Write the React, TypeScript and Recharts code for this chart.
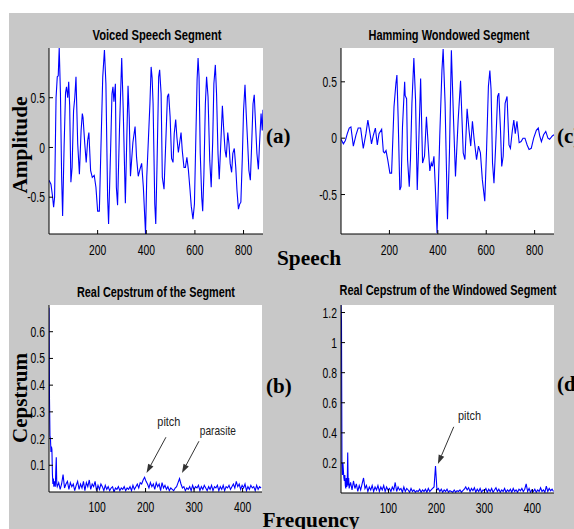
import React from "react";
import { LineChart, Line, XAxis, YAxis, ReferenceLine, ReferenceDot } from "recharts";

// (a) voiced speech segment: sample index / amplitude
const speechN = [
  0, 8, 14, 19, 23, 29, 34, 38, 42, 47, 52, 56, 62, 68, 72, 77, 81, 85, 90, 95,
  101, 106, 111, 118, 125, 132, 137, 140, 147, 153, 159, 164, 171, 178, 186, 193, 200, 207, 214, 221,
  228, 234, 241, 245, 254, 259, 263, 267, 273, 277, 282, 290, 299, 305, 314, 320, 325, 330, 335, 345,
  354, 360, 367, 374, 381, 388, 397, 402, 408, 415, 420, 424, 428, 435, 439, 444, 451, 455, 461, 466,
  473, 480, 487, 492, 498, 504, 510, 515, 521, 526, 532, 537, 543, 548, 555, 561, 567, 573, 580, 585,
  592, 598, 603, 609, 613, 617, 622, 628, 632, 637, 643, 648, 654, 661, 667, 673, 678, 684, 689, 695,
  700, 707, 713, 718, 724, 729, 735, 740, 745, 751, 756, 762, 768, 773, 779, 784, 789, 795, 800, 806,
  811, 817, 822, 828, 833, 839, 844, 850, 855, 861, 866, 872, 877, 880,
];
const speechAmp = [
  -0.33, -0.37, -0.48, -0.6, -0.5, 0.5, 0.71, 0.72, 1.0, 0.55, -0.3, -0.69, 0.0, 0.55, 0.61, 0.5, 0.66, 0.42, -0.35, -0.2,
  0.37, 0.5, 0.71, 0.04, -0.27, 0.17, 0.34, 0.3, 0.04, -0.15, 0.07, 0.15, -0.23, -0.3, -0.28, -0.4, -0.64, -0.64, 0.04, 0.71,
  0.98, 0.64, -0.5, -0.77, 0.04, 0.54, 0.61, 0.46, 0.64, -0.4, -0.58, 0.2, 0.9, 0.4, -0.56, 0.1, 0.62, 0.3, -0.29, 0.05,
  0.21, -0.1, -0.29, -0.22, -0.16, -0.4, -0.87, -0.3, 0.04, 0.44, 0.81, 0.7, 0.44, -0.57, -0.77, -0.2, 0.71, 0.78, 0.54, -0.3,
  -0.42, 0.04, 0.51, 0.54, 0.31, -0.11, -0.15, 0.14, 0.28, 0.1, -0.05, 0.04, 0.15, -0.03, -0.2, -0.2, -0.1, -0.22, -0.43, -0.59,
  -0.72, -0.57, 0.0, 0.68, 0.9, 0.71, -0.06, -0.5, -0.64, -0.27, 0.44, 0.71, 0.51, -0.13, -0.4, 0.05, 0.64, 0.83, 0.54, -0.06,
  -0.32, 0.07, 0.42, 0.2, -0.03, -0.1, 0.15, 0.04, -0.16, -0.25, -0.06, -0.01, -0.2, -0.43, -0.62, -0.57, -0.55, -0.1, 0.37, 0.63,
  0.34, 0.04, -0.23, -0.33, 0.0, 0.44, 0.53, 0.2, -0.06, -0.22, 0.05, 0.34, 0.17, 0.38,
];

// (c) hamming windowed segment
const windowedN = [
  0, 10, 18, 26, 34, 41, 51, 62, 71, 81, 92, 103, 111, 120, 126, 133, 142, 150, 157, 168,
  175, 180, 186, 193, 202, 209, 219, 227, 231, 236, 243, 248, 254, 263, 265, 271, 275, 282, 287, 293,
  301, 308, 315, 320, 329, 337, 345, 353, 362, 367, 373, 378, 384, 389, 397, 408, 417, 422, 430, 440,
  448, 456, 465, 473, 484, 494, 505, 512, 521, 529, 536, 543, 550, 560, 568, 576, 584, 594, 601, 609,
  615, 620, 626, 632, 639, 647, 652, 659, 664, 670, 678, 686, 694, 700, 708, 714, 720, 727, 736, 744,
  752, 760, 769, 777, 786, 796, 807, 815, 821, 828, 837, 846, 855, 862, 873, 880,
];
const windowedAmp = [
  -0.01, -0.05, -0.02, 0.04, 0.09, 0.1, -0.07, 0.03, 0.09, 0.09, -0.09, 0.04, 0.16, 0.04, -0.05, 0.02, 0.09, -0.06, 0.04, 0.08,
  -0.12, -0.13, -0.11, -0.19, -0.31, -0.31, 0.28, 0.49, 0.56, 0.19, -0.46, -0.43, 0.1, 0.5, 0.38, 0.35, -0.19, -0.43, -0.19, 0.31,
  0.71, 0.34, -0.46, -0.13, 0.53, -0.22, -0.16, 0.19, -0.12, -0.29, -0.22, -0.25, -0.16, -0.4, -0.84, 0.02, 0.6, 0.79, 0.31, -0.72,
  -0.13, 0.78, 0.16, -0.34, 0.16, 0.51, -0.13, -0.19, 0.26, 0.07, -0.07, 0.15, -0.01, -0.19, -0.07, -0.13, -0.37, -0.56, -0.13, 0.46,
  0.6, 0.43, -0.22, -0.4, -0.07, 0.37, 0.4, 0.07, -0.25, -0.16, 0.31, 0.37, -0.06, -0.09, 0.07, 0.16, 0.04, 0.15, -0.04, -0.03,
  0.0, 0.0, -0.06, -0.1, -0.09, 0.0, 0.07, 0.09, 0.02, -0.03, 0.03, 0.06, 0.0, -0.01, 0.02, 0.03,
];

// (b) real cepstrum of the segment: lags 1..17, then every 3rd lag from 18
const headLags = [1, 2, 3, 4, 5, 6, 7, 8, 9, 10, 11, 12, 13, 14, 15, 16, 17];
const cepRawHead = [0.69, 0.35, 0.21, 0.2, 0.15, 0.17, 0.16, 0.07, 0.03, 0.05, 0.02, 0.04, 0.03, 0.02, 0.08, 0.13, 0.03];
const cepRawTail = [
  0.02, 0.035, 0.01, 0.03, 0.065, 0.015, 0.03, 0.04, 0.01, 0.035,
  0.02, 0.03, 0.005, 0.025, 0.04, 0.01, 0.03, 0.015, 0.04, 0.005,
  0.035, 0.02, 0.045, 0.01, 0.03, 0.02, 0.04, 0.005, 0.025, 0.01,
  0.03, 0.02, 0.005, 0.025, 0.01, 0.02, 0.005, 0.015, 0.02, 0.0,
  0.015, 0.01, 0.02, 0.005, 0.015, 0.01, 0.02, 0.005, 0.015, 0.01,
  0.02, 0.005, 0.025, 0.01, 0.02, 0.03, 0.015, 0.035, 0.03, 0.045,
  0.055, 0.04, 0.03, 0.015, 0.035, 0.02, 0.03, 0.01, 0.035, 0.02,
  0.03, 0.005, 0.035, 0.015, 0.025, 0.01, 0.02, 0.005, 0.015, 0.01,
  0.005, 0.015, 0.02, 0.035, 0.05, 0.03, 0.015, 0.02, 0.005, 0.015,
  0.01, 0.02, 0.005, 0.025, 0.01, 0.02, 0.015, 0.025, 0.005, 0.02,
  0.01, 0.025, 0.015, 0.005, 0.02, 0.01, 0.025, 0.005, 0.02, 0.015,
  0.025, 0.005, 0.02, 0.01, 0.025, 0.005, 0.02, 0.015, 0.025, 0.01,
  0.02, 0.03, 0.015, 0.04, 0.02, 0.03, 0.01, 0.025, 0.015, 0.03,
  0.005, 0.02, 0.01, 0.025, 0.015, 0.02, 0.005, 0.025, 0.01, 0.02,
  0.015,
];

// (d) real cepstrum of the windowed segment
const cepWinHead = [1.25, 1.15, 0.2, 0.12, 0.2, 0.15, 0.1, 0.08, 0.12, 0.05, 0.03, 0.1, 0.04, 0.06, 0.27, 0.05, 0.1];
const cepWinTail = [
  0.03, 0.07, 0.02, 0.08, 0.03, 0.06, 0.01, 0.05, 0.02, 0.06,
  0.1, 0.03, 0.05, 0.01, 0.04, 0.02, 0.05, 0.01, 0.04, 0.02,
  0.05, 0.01, 0.04, 0.02, 0.05, 0.01, 0.04, 0.02, 0.03, 0.01,
  0.04, 0.02, 0.07, 0.01, 0.04, 0.02, 0.03, 0.005, 0.04, 0.01,
  0.03, 0.02, 0.005, 0.03, 0.01, 0.02, 0.005, 0.015, 0.01, 0.025,
  0.005, 0.02, 0.01, 0.025, 0.005, 0.03, 0.01, 0.02, 0.03, 0.04,
  0.18, 0.02, 0.03, 0.01, 0.025, 0.005, 0.02, 0.01, 0.025, 0.005,
  0.015, 0.01, 0.005, 0.02, 0.005, 0.015, 0.01, 0.02, 0.005, 0.015,
  0.025, 0.04, 0.02, 0.035, 0.01, 0.03, 0.015, 0.035, 0.005, 0.025,
  0.01, 0.03, 0.005, 0.02, 0.015, 0.03, 0.005, 0.025, 0.01, 0.03,
  0.005, 0.02, 0.035, 0.01, 0.025, 0.005, 0.02, 0.01, 0.03, 0.005,
  0.02, 0.01, 0.025, 0.005, 0.03, 0.01, 0.02, 0.005, 0.025, 0.015,
  0.03, 0.01, 0.025, 0.06, 0.01, 0.03, 0.005, 0.02, 0.01, 0.025,
  0.005, 0.02, 0.01, 0.035, 0.01, 0.02, 0.005, 0.045, 0.01, 0.03,
  0.015, 0.025, 0.01,
];

const speechTicks = [200, 400, 600, 800];
const ampTicks = [-0.5, 0, 0.5];
const lagTicks = [100, 200, 300, 400];
const cepRawTicks = [0.1, 0.2, 0.3, 0.4, 0.5, 0.6];
const cepWinTicks = [0.2, 0.4, 0.6, 0.8, 1, 1.2];

type Pt = { n: number; v: number };
const pairs = (xs: number[], ys: number[]): Pt[] => xs.map((n, i) => ({ n, v: ys[i] }));
const cepData = (head: number[], tail: number[]): Pt[] => [
  ...pairs(headLags, head),
  ...tail.map((v, i) => ({ n: 18 + 3 * i, v })),
];

const speechData = pairs(speechN, speechAmp);
const windowedData = pairs(windowedN, windowedAmp);
const cepRawData = cepData(cepRawHead, cepRawTail);
const cepWinData = cepData(cepWinHead, cepWinTail);

const GRAY = "#c8c8c8";
const BLUE = "#0000ff";
const SANS = "'Liberation Sans', Arial, sans-serif";
const SERIF = "'Liberation Serif', 'Times New Roman', serif";
const YW = 40;
const XH = 24;
const SQUEEZE = 0.74; // matlab's narrow axis font

const BottomTick = (p: any) => (
  <g transform={`translate(${p.x},${p.y}) scale(${SQUEEZE},1)`}>
    <text x={0} y={0} dy="0.71em" textAnchor="middle" fontSize={14} fontFamily={SANS} fill="#000">
      {p.payload.value}
    </text>
  </g>
);

const LeftTick = (p: any) => (
  <g transform={`translate(${p.x},${p.y}) scale(${SQUEEZE},1)`}>
    <text x={0} y={0} dy="0.36em" textAnchor="end" fontSize={14} fontFamily={SANS} fill="#000">
      {p.payload.value}
    </text>
  </g>
);

type PanelProps = {
  left: number;
  top: number;
  w: number;
  h: number;
  data: Pt[];
  xDomain: [number, number];
  xTicks: number[];
  yDomain: [number, number];
  yTicks: number[];
  xMargin?: number;
  children?: React.ReactNode;
};

function Panel({ left, top, w, h, data, xDomain, xTicks, yDomain, yTicks, xMargin = 15, children }: PanelProps) {
  return (
    <>
      <div style={{ position: "absolute", left, top, width: w, height: h, background: "#fff" }} />
      <div style={{ position: "absolute", left: left - YW, top: top - 1 }}>
        <LineChart width={YW + w + 1} height={h + XH + 1} data={data} margin={{ top: 1, right: 1, bottom: 0, left: 0 }}>
          <XAxis xAxisId="b" dataKey="n" type="number" domain={xDomain} ticks={xTicks} allowDataOverflow
            height={XH} tickSize={-4} tickMargin={xMargin} stroke="#000" tick={BottomTick} interval={0} />
          <XAxis xAxisId="t" orientation="top" dataKey="n" type="number" domain={xDomain} ticks={xTicks}
            allowDataOverflow height={0} tickSize={-4} tick={false} stroke="#000" interval={0} />
          <YAxis yAxisId="l" type="number" domain={yDomain} ticks={yTicks} allowDataOverflow width={YW}
            tickSize={-4} tickMargin={8} stroke="#000" tick={LeftTick} interval={0} />
          <YAxis yAxisId="r" orientation="right" type="number" domain={yDomain} ticks={yTicks}
            allowDataOverflow width={0} tickSize={-4} tick={false} stroke="#000" interval={0} />
          <Line xAxisId="b" yAxisId="l" type="linear" dataKey="v" stroke={BLUE} strokeWidth={1.1}
            dot={false} isAnimationActive={false} />
          {children}
        </LineChart>
      </div>
    </>
  );
}

const ArrowShape = (p: any) => {
  const { x1, y1, x2, y2 } = p;
  const a = Math.atan2(y2 - y1, x2 - x1);
  const len = 9;
  const half = 3;
  const bx = x2 - len * Math.cos(a);
  const by = y2 - len * Math.sin(a);
  const px = -Math.sin(a) * half;
  const py = Math.cos(a) * half;
  return (
    <g>
      <line x1={x1} y1={y1} x2={bx} y2={by} stroke="#333" strokeWidth={1} />
      <polygon points={`${x2},${y2} ${bx + px},${by + py} ${bx - px},${by - py}`} fill="#333" />
    </g>
  );
};

const noteShape = (txt: string, len: number) => (p: any) => (
  <text x={p.cx} y={p.cy} dy="0.35em" textAnchor="middle" fontSize={13} fontFamily={SANS} fill="#222"
    textLength={len} lengthAdjust="spacingAndGlyphs">
    {txt}
  </text>
);

const annotate = (key: string, txt: string, len: number, tx: number, ty: number,
  from: [number, number], to: [number, number]) => [
  <ReferenceDot key={key + "t"} xAxisId="b" yAxisId="l" x={tx} y={ty} r={0} shape={noteShape(txt, len)} />,
  <ReferenceLine key={key + "a"} xAxisId="b" yAxisId="l"
    segment={[{ x: from[0], y: from[1] }, { x: to[0], y: to[1] }]} shape={ArrowShape} />,
];

const Title = ({ x, y, len, children }: { x: number; y: number; len: number; children: string }) => (
  <text x={x} y={y} textAnchor="middle" fontSize={14} fontWeight="bold" fontFamily={SANS}
    textLength={len} lengthAdjust="spacingAndGlyphs" fill="#000">
    {children}
  </text>
);

const Big = ({ x, y, len, rotate, anchor = "middle", children }:
  { x: number; y: number; len?: number; rotate?: boolean; anchor?: string; children: string }) => (
  <text transform={`translate(${x},${y})${rotate ? " rotate(-90)" : ""}`} textAnchor={anchor as any}
    fontSize={21} fontWeight="bold" fontFamily={SERIF} fill="#000"
    textLength={len} lengthAdjust={len ? "spacingAndGlyphs" : undefined}>
    {children}
  </text>
);

export default function App() {
  return (
    <div style={{ position: "absolute", left: 0, top: 0, width: 574, height: 529, overflow: "hidden", background: "#fff" }}>
      <div style={{ position: "absolute", left: 9, top: 13, right: 0, bottom: 0, background: GRAY }} />

      <Panel left={49} top={48} w={214} h={186} data={speechData} xDomain={[0, 880]} xTicks={speechTicks}
        yDomain={[-0.87, 1.0]} yTicks={ampTicks} />
      <Panel left={341} top={48} w={213} h={186} data={windowedData} xDomain={[0, 880]} xTicks={speechTicks}
        yDomain={[-0.85, 0.8]} yTicks={ampTicks} />
      <Panel left={49} top={305} w={213} h={187} data={cepRawData} xDomain={[1, 440]} xTicks={lagTicks}
        yDomain={[0, 0.7]} yTicks={cepRawTicks} xMargin={14}>
        {annotate("p", "pitch", 23, 248, 0.265, [242, 0.205], [202, 0.071])}
        {annotate("q", "parasite", 36, 349, 0.231, [310, 0.19], [275, 0.071])}
      </Panel>
      <Panel left={341} top={305} w={213} h={188} data={cepWinData} xDomain={[1, 445]} xTicks={lagTicks}
        yDomain={[0, 1.25]} yTicks={cepWinTicks} xMargin={14}>
        {annotate("r", "pitch", 23, 269, 0.513, [236, 0.44], [203, 0.193])}
      </Panel>

      <svg width={574} height={529} style={{ position: "absolute", left: 0, top: 0, pointerEvents: "none" }}>
        <Title x={157} y={40} len={129}>Voiced Speech Segment</Title>
        <Title x={449} y={40} len={161}>Hamming Wondowed Segment</Title>
        <Title x={156} y={297} len={158}>Real Cepstrum of the Segment</Title>
        <Title x={448} y={295} len={217}>Real Cepstrum of the Windowed Segment</Title>

        <Big x={27} y={145} len={97} rotate>Amplitude</Big>
        <Big x={27} y={398} len={90} rotate>Cepstrum</Big>
        <Big x={309} y={265} len={64}>Speech</Big>
        <Big x={311} y={527} len={97}>Frequency</Big>
        <Big x={266} y={143} anchor="start">(a)</Big>
        <Big x={557} y={143} anchor="start">(c)</Big>
        <Big x={266} y={393} anchor="start">(b)</Big>
        <Big x={557} y={391} anchor="start">(d)</Big>
      </svg>
    </div>
  );
}
